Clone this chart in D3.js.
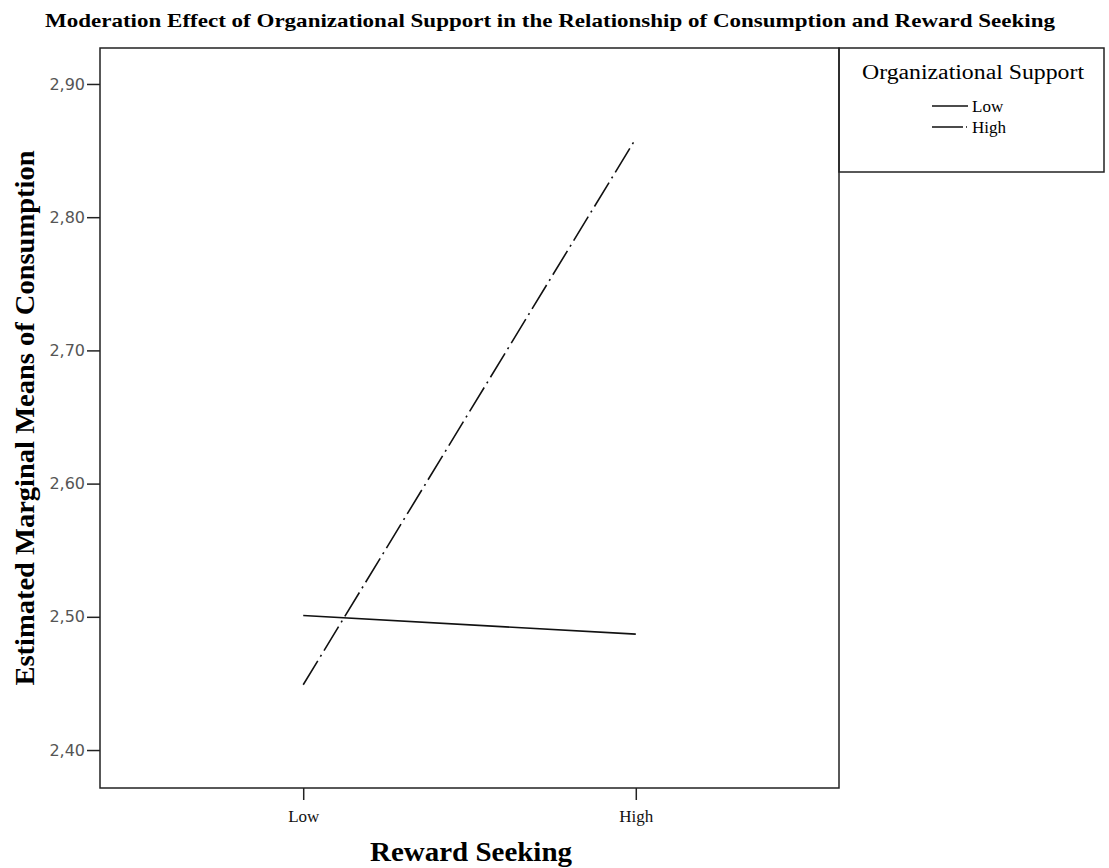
<!DOCTYPE html>
<html>
<head>
<meta charset="utf-8">
<script src="https://cdn.jsdelivr.net/npm/d3@7"></script>
<style>
  body { margin: 0; background: #fff; }
  svg { display: block; }
</style>
</head>
<body>
<svg id="chart" width="1109" height="868"></svg>
<script>
// data
const categories = ['Low', 'High'];             // Reward Seeking
const groups = ['Low', 'High'];                 // Organizational Support
const lowSupport = [2.501, 2.487];
const highSupport = [2.449, 2.859];
const yTicks = [2.4, 2.5, 2.6, 2.7, 2.8, 2.9];

const svg = d3.select('#chart');
const margin = { left: 100, top: 48, right: 839, bottom: 788 };
const serif = '"Liberation Serif", "DejaVu Serif", serif';

const x = d3.scalePoint()
    .domain(categories)
    .range([margin.left, margin.right])
    .padding(0.611);

const y = d3.scaleLinear()
    .domain([2.3715, 2.927])
    .range([margin.bottom, margin.top]);

// title
svg.append('text')
    .attr('x', 45)
    .attr('y', 27)
    .attr('textLength', 1010)
    .attr('lengthAdjust', 'spacingAndGlyphs')
    .style('font-family', serif)
    .style('font-weight', 'bold')
    .style('font-size', '19px')
    .text('Moderation Effect of Organizational Support in the Relationship of Consumption and Reward Seeking');

// frame
svg.append('rect')
    .attr('x', margin.left)
    .attr('y', margin.top)
    .attr('width', margin.right - margin.left)
    .attr('height', margin.bottom - margin.top)
    .attr('fill', 'none')
    .attr('stroke', '#222')
    .attr('stroke-width', 1.5);

// y axis
const yAxis = svg.append('g')
    .attr('transform', `translate(${margin.left},0)`)
    .call(d3.axisLeft(y).tickValues(yTicks).tickSize(13).tickPadding(2)
        .tickFormat(d => d3.format('.2f')(d).replace('.', ',')));
yAxis.select('.domain').remove();
yAxis.selectAll('line').attr('stroke', '#222').attr('stroke-width', 1.5);
yAxis.selectAll('text')
    .attr('fill', '#555')
    .style('font-family', '"DejaVu Sans", sans-serif')
    .style('font-size', '16px');

// x axis
const xAxis = svg.append('g')
    .attr('transform', `translate(0,${margin.bottom})`)
    .call(d3.axisBottom(x).tickSize(12).tickPadding(5));
xAxis.select('.domain').remove();
xAxis.selectAll('line').attr('stroke', '#222').attr('stroke-width', 1.5);
xAxis.selectAll('text')
    .attr('fill', '#111')
    .attr('dy', '1em')
    .style('font-family', serif)
    .style('font-size', '17px');

// axis titles
svg.append('text')
    .attr('transform', `translate(34,418) rotate(-90)`)
    .attr('text-anchor', 'middle')
    .attr('textLength', 535)
    .attr('lengthAdjust', 'spacingAndGlyphs')
    .style('font-family', serif)
    .style('font-weight', 'bold')
    .style('font-size', '27px')
    .text('Estimated Marginal Means of Consumption');

svg.append('text')
    .attr('x', 471)
    .attr('y', 861)
    .attr('text-anchor', 'middle')
    .attr('textLength', 202)
    .attr('lengthAdjust', 'spacingAndGlyphs')
    .style('font-family', serif)
    .style('font-weight', 'bold')
    .style('font-size', '27px')
    .text('Reward Seeking');

// lines
const series = [
    { name: 'Low', values: lowSupport, dash: null },
    { name: 'High', values: highSupport, dash: '28,5,2,5' }
];
const line = d3.line()
    .x((d, i) => x(categories[i]))
    .y(d => y(d));

svg.selectAll('.series')
    .data(series)
    .join('path')
    .attr('class', 'series')
    .attr('d', d => line(d.values))
    .attr('fill', 'none')
    .attr('stroke', '#111')
    .attr('stroke-width', 1.6)
    .attr('stroke-dasharray', d => d.dash);

// legend
const legend = svg.append('g');
legend.append('rect')
    .attr('x', margin.right)
    .attr('y', margin.top)
    .attr('width', 265)
    .attr('height', 124)
    .attr('fill', 'none')
    .attr('stroke', '#222')
    .attr('stroke-width', 1.5);
legend.append('text')
    .attr('x', 973)
    .attr('y', 79)
    .attr('text-anchor', 'middle')
    .attr('textLength', 222)
    .attr('lengthAdjust', 'spacingAndGlyphs')
    .style('font-family', serif)
    .style('font-size', '20px')
    .text('Organizational Support');

const items = legend.selectAll('.item')
    .data(series)
    .join('g')
    .attr('class', 'item')
    .attr('transform', (d, i) => `translate(932,${106 + i * 21})`);
items.append('line')
    .attr('x1', 0).attr('x2', 36)
    .attr('stroke', '#111')
    .attr('stroke-width', 1.5)
    .attr('stroke-dasharray', d => d.dash ? '31,3,1,3' : null);
items.append('text')
    .attr('x', 40)
    .attr('y', 6)
    .style('font-family', serif)
    .style('font-size', '17px')
    .text(d => d.name);
</script>
</body>
</html>
